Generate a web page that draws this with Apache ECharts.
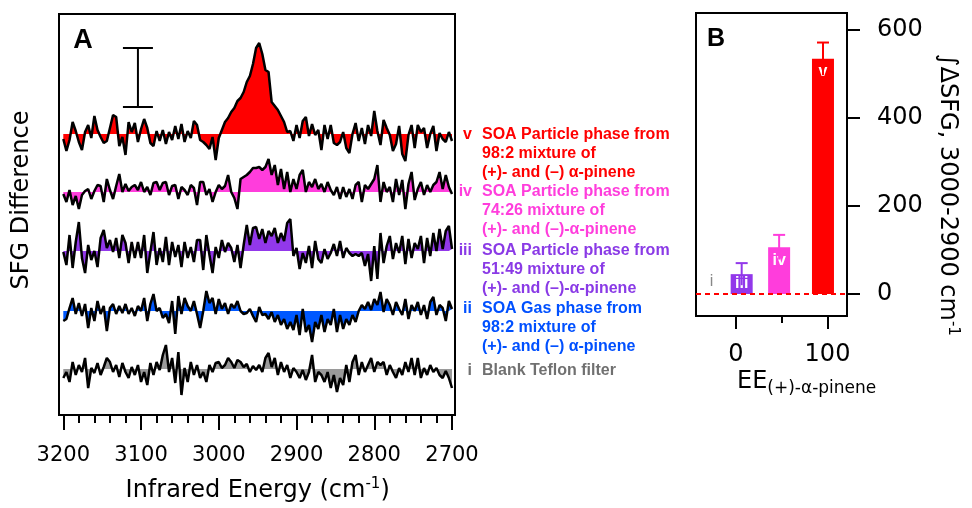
<!DOCTYPE html>
<html>
<head>
<meta charset="utf-8">
<script src="https://cdn.jsdelivr.net/npm/echarts@6/dist/echarts.min.js"></script>
<style>
  html, body { margin: 0; padding: 0; background: #fff; }
  #chart { width: 972px; height: 508px; }
</style>
</head>
<body>
<div id="chart"></div>
<script>
// panel A: SFG difference spectra, one point every 4 cm-1 from 3200 to 2700
const wnStart = 3200
const wnStep = 4
const traceV = [-5, -17, -6, 12, 3, -8, -16, 2, 9, -4,
  18, 4, -3, -9, -7, 6, 19, 17, -12, -3,
  -21, 12, 2, 11, -8, 5, 15, 6, -9, -12,
  3, -7, 4, -10, 2, -6, 8, -5, 10, -8,
  3, -4, 13, 9, -6, -8, -11, -15, -3, -26,
  -4, 4, 12, 16, 22, 26, 33, 36, 42, 52,
  58, 70, 86, 91, 80, 64, 62, 32, 28, 24,
  18, 12, 2, 3, -7, 9, -4, 13, 17, -2,
  10, -1, 4, -16, 9, -5, 9, -9, -11, -8,
  2, -14, -19, 0, 11, -7, 6, -10, 9, -2,
  23, 3, -11, 14, 6, -1, -17, -10, 8, -20,
  -27, -1, 9, -14, 9, 2, 6, -14, 0, 8,
  -17, 1, -5, -8, 2, -7]
const traceIV = [-2, -10, 2, -13, -4, -17, -3, 1, 3, -7,
  1, 7, 6, -10, 13, 2, -7, 6, 18, 0,
  8, 1, 5, 7, 2, 10, 0, 5, -3, 9,
  10, 2, 9, 10, -3, 6, 7, -7, 5, 2,
  -3, 7, 4, -13, 10, 10, -3, 3, -10, 0,
  7, 3, 6, 17, 0, -6, -17, 13, 15, 17,
  20, 24, 24, 25, 22, 25, 33, 17, 27, 7,
  23, 3, 20, 0, 13, 3, 17, 22, 0, 10,
  5, 13, 3, 8, 0, 10, 2, -3, 5, -7,
  5, -5, 3, -7, 7, 10, -10, 7, 3, 8,
  13, 27, -10, 10, 0, 5, -10, 13, -3, 12,
  -17, 8, 20, -8, 3, 10, -3, 7, 0, 7,
  10, 20, 3, 17, 5, -2]
const traceIII = [-1, -14, 16, -17, 9, 29, -7, -22, 6, -9,
  0, -16, 13, 21, 3, 11, -1, 13, -7, 16,
  8, -12, 9, -7, 9, -7, 16, -22, -1, 19,
  -14, 3, -11, 14, -14, 9, -6, 6, -16, 9,
  -7, 4, -11, 11, 11, -19, 16, -4, -22, 4,
  -7, 11, -1, 8, 3, -11, 6, -17, 6, 26,
  6, 23, 24, 12, 22, 8, 20, 15, 23, 8,
  18, 10, 28, 32, -5, 3, -18, -2, -12, 5,
  -17, 10, -8, -12, 2, -8, -2, 7, -5, 10,
  -7, 3, -2, -5, -3, -5, -2, -15, -3, -30,
  5, -28, 18, -12, 5, 15, -8, 8, -2, 15,
  -13, 12, -7, 8, 2, 15, -12, 13, -5, 18,
  0, 22, 2, 20, 25, 2]
const traceII = [-10, -8, 3, 13, -3, 8, -5, 7, -17, 3,
  -10, 10, -3, 5, -20, 3, 7, -3, 5, -2,
  7, -3, 3, -5, 5, 0, 13, -10, 7, 17,
  0, 3, -7, -3, -12, 10, -23, 15, -3, 13,
  5, 0, 10, -3, -17, 0, 20, 8, 13, -3,
  12, 2, 8, -3, 7, 3, 10, 0, -3, -2,
  2, -5, -11, 4, -4, -3, -8, -1, -11, -4,
  -14, -8, -18, -11, -19, -4, -24, 2, -21, -14,
  -31, -11, -18, -4, -21, -8, -14, 2, -21, -4,
  -18, -8, -14, -4, -11, 0, 6, 2, 9, 1,
  12, 6, 19, -1, 12, 6, -4, 9, 2, -4,
  12, -8, 6, 0, 9, -4, 6, -8, 9, 14,
  -4, 6, 3, -10, 10, 2]
const traceI = [-9, -3, -13, 7, -6, 4, -3, 11, -19, 1,
  -4, 6, -6, 2, 11, 7, -3, 4, -8, 6,
  -3, -9, 2, -6, 4, -13, -3, -16, 6, -6,
  7, -1, 14, 24, -3, 11, -14, 17, -26, 1,
  -13, 7, -6, 4, -9, -3, -13, 4, -3, 6,
  7, 1, 4, 11, 7, 1, 9, 7, 2, 5,
  -3, 3, -1, 4, -3, 11, 16, 2, 11, -6,
  7, -3, 4, -9, 1, -3, -9, -1, -11, -3,
  14, -13, -3, -6, -13, -3, -19, -6, -23, -9,
  -16, 4, -13, 7, 14, -6, 7, -3, 4, 11,
  -3, 7, 4, 7, -6, 4, -3, -9, 1, -6,
  7, -3, 11, -6, 11, -9, 1, -6, 4, -3,
  1, -6, -9, -2, -9, -19]
// vertical offset of each trace (same units), top trace first
const traceNames = ['v', 'iv', 'iii', 'ii', 'i']
const traceOffsets = [281, 223, 164, 104, 46]
const plotSpan = 401
// scale bar: [wavenumber, low, high] on the top trace's scale
const scaleBar = [3104, 27, 86]

// panel B: integrated SFG (3000-2900 cm-1) vs EE
const barNames = ['i', 'iii', 'iv', 'v']
const barEE = [-27, 6, 47, 95]
const barIntegral = [0, 45, 106, 533]
const barError = [0, 25, 28, 37]

const legendLines = [
  ['v', ['SOA Particle phase from', '98:2 mixture of', '(+)- and (–) α-pinene']],
  ['iv', ['SOA Particle phase from', '74:26 mixture of', '(+)- and (–)-α-pinene']],
  ['iii', ['SOA Particle phase from', '51:49 mixture of', '(+)- and (–)-α-pinene']],
  ['ii', ['SOA Gas phase from', '98:2 mixture of', '(+)- and (–) α-pinene']],
  ['i', ['Blank Teflon filter']]
]

const colors = {v: '#ff0000', iv: '#ff3ddc', iii: '#9238ea', ii: '#0058ff', i: '#9a9a9a'}
const textColors = {v: '#ff0000', iv: '#ff3ddc', iii: '#8a3ae6', ii: '#0050ff', i: '#707070'}
const FONT = 'DejaVu Sans'
const BOLD = 'Liberation Sans'

const traces = [traceV, traceIV, traceIII, traceII, traceI]
const wn = traceV.map((_, i) => wnStart - i * wnStep)

const yAxesA = traceOffsets.map(off => ({
  gridIndex: 1, type: 'value', show: false,
  min: -off, max: plotSpan - off
}))

const traceSeries = traces.map((t, k) => ({
  name: traceNames[k],
  type: 'line',
  xAxisIndex: 1,
  yAxisIndex: 2 + k,
  symbol: 'none',
  animation: false,
  lineStyle: {color: '#000', width: 2.5},
  areaStyle: {color: colors[traceNames[k]], opacity: 1},
  data: t.map((v, i) => [wn[i], v])
}))

const scaleBarSeries = {
  type: 'custom',
  xAxisIndex: 1,
  yAxisIndex: 2,
  animation: false,
  data: [scaleBar],
  renderItem(params, api) {
    const lo = api.coord([api.value(0), api.value(1)])
    const hi = api.coord([api.value(0), api.value(2)])
    const st = {stroke: '#000', lineWidth: 2}
    return {
      type: 'group',
      children: [
        {type: 'line', shape: {x1: lo[0], y1: lo[1], x2: hi[0], y2: hi[1]}, style: st},
        {type: 'line', shape: {x1: lo[0] - 15, y1: lo[1], x2: lo[0] + 15, y2: lo[1]}, style: st},
        {type: 'line', shape: {x1: hi[0] - 15, y1: hi[1], x2: hi[0] + 15, y2: hi[1]}, style: st}
      ]
    }
  }
}

const barSeries = {
  type: 'bar',
  xAxisIndex: 3,
  yAxisIndex: 8,
  barWidth: 22,
  animation: false,
  data: barEE.map((x, i) => ({
    value: [x, barIntegral[i]],
    itemStyle: {color: colors[barNames[i]]},
    label: barNames[i] === 'i'
      ? {show: true, position: 'top', distance: 4, color: '#888', fontWeight: 'normal', fontSize: 16}
      : {show: true, position: 'insideTop', distance: barNames[i] === 'iii' ? 1 : 5}
  })),
  label: {
    show: true, color: '#fff', fontFamily: BOLD, fontWeight: 'bold', fontSize: 16,
    formatter: p => barNames[p.dataIndex]
  },
  markLine: {
    silent: true, symbol: 'none', animation: false,
    label: {show: false},
    lineStyle: {color: '#ff0000', type: [5, 4], width: 2},
    data: [{yAxis: 0}]
  }
}

const errorSeries = {
  type: 'custom',
  xAxisIndex: 3,
  yAxisIndex: 8,
  animation: false,
  z: 5,
  data: barEE.map((x, i) => [x, barIntegral[i], barError[i], i]),
  renderItem(params, api) {
    const e = api.value(2)
    if (!e) return null
    const c = colors[barNames[api.value(3)]]
    const lo = api.coord([api.value(0), api.value(1) - e])
    const hi = api.coord([api.value(0), api.value(1) + e])
    const st = {stroke: c, lineWidth: 2}
    return {
      type: 'group',
      children: [
        {type: 'line', shape: {x1: lo[0], y1: lo[1], x2: hi[0], y2: hi[1]}, style: st},
        {type: 'line', shape: {x1: hi[0] - 6, y1: hi[1], x2: hi[0] + 6, y2: hi[1]}, style: st}
      ]
    }
  }
}

const legendRows = [135, 192, 251, 309, 371]
const legendGraphics = []
legendLines.forEach(([num, lines], k) => {
  const c = textColors[num]
  legendGraphics.push({
    type: 'text', x: 472, y: legendRows[k],
    style: {text: num, fill: c, font: `bold 16px "${BOLD}"`, align: 'right', verticalAlign: 'middle'}
  })
  lines.forEach((s, j) => {
    legendGraphics.push({
      type: 'text', x: 482, y: legendRows[k] + j * 19,
      style: {text: s, fill: c, font: `bold 16px "${BOLD}"`, align: 'left', verticalAlign: 'middle'}
    })
  })
})

const plain = v => String(v)

const option = {
  backgroundColor: '#fff',
  textStyle: {fontFamily: FONT},
  grid: [
    // panel A frame
    {left: 59, right: 517, top: 14, bottom: 93, show: true, borderColor: '#000', borderWidth: 2, backgroundColor: 'transparent'},
    // panel A data / x ticks
    {left: 63.3, right: 520, top: 14, bottom: 93},
    // panel B frame
    {left: 696, right: 125, top: 13, bottom: 192, show: true, borderColor: '#000', borderWidth: 2, backgroundColor: 'transparent'},
    // panel B data / y ticks
    {left: 696, right: 125, top: 29.3, bottom: 214},
    // panel B x ticks
    {left: 736, right: 144.5, top: 300, bottom: 192}
  ],
  xAxis: [
    {gridIndex: 0, type: 'value', show: false, min: 0, max: 1},
    {
      gridIndex: 1, type: 'value', min: 2700, max: 3200, interval: 100, inverse: true,
      axisLine: {show: false, onZero: false},
      axisTick: {show: true, length: 15, lineStyle: {color: '#000', width: 2}},
      minorTick: {show: true, splitNumber: 5, length: 8, lineStyle: {color: '#000', width: 2}},
      splitLine: {show: false},
      axisLabel: {color: '#000', fontSize: 21, margin: 30, fontFamily: FONT, formatter: plain},
      name: 'Infrared Energy (cm{sup|-1})',
      nameLocation: 'middle',
      nameGap: 89,
      nameTextStyle: {
        color: '#000', fontSize: 24, fontFamily: FONT, verticalAlign: 'bottom',
        rich: {sup: {fontSize: 15, color: '#000', fontFamily: FONT, padding: [0, 0, 12, 0]}}
      }
    },
    {gridIndex: 2, type: 'value', show: false, min: 0, max: 1},
    {gridIndex: 3, type: 'value', show: false, min: -44, max: 121.3},
    {
      gridIndex: 4, type: 'value', min: 0, max: 100, interval: 100,
      axisLine: {show: false, onZero: false},
      axisTick: {show: true, length: 13, lineStyle: {color: '#000', width: 2}},
      minorTick: {show: true, splitNumber: 2, length: 7, lineStyle: {color: '#000', width: 2}},
      splitLine: {show: false},
      axisLabel: {color: '#000', fontSize: 24, margin: 27, fontFamily: FONT, formatter: plain}
    }
  ],
  yAxis: [
    {gridIndex: 0, type: 'value', show: false, min: 0, max: 1},
    {gridIndex: 1, type: 'value', show: false, min: 0, max: 1},
    ...yAxesA,
    {gridIndex: 2, type: 'value', show: false, min: 0, max: 1},
    {
      gridIndex: 3, type: 'value', position: 'right', min: 0, max: 600, interval: 200,
      axisLine: {show: false, onZero: false},
      axisTick: {show: true, length: 13, lineStyle: {color: '#000', width: 2}},
      splitLine: {show: false},
      axisLabel: {color: '#000', fontSize: 24, margin: 30, fontFamily: FONT, formatter: plain}
    },
    {gridIndex: 4, type: 'value', show: false, min: 0, max: 1}
  ],
  graphic: [
    {type: 'text', x: 83, y: 41, style: {text: 'A', font: `bold 27px "${BOLD}"`, fill: '#000', align: 'center', verticalAlign: 'middle'}},
    {type: 'text', x: 716, y: 39, style: {text: 'B', font: `bold 25px "${BOLD}"`, fill: '#000', align: 'center', verticalAlign: 'middle'}},
    {type: 'text', x: 22, y: 200, rotation: Math.PI / 2,
      style: {text: 'SFG Difference', font: `24px "${FONT}"`, fill: '#000', align: 'center', verticalAlign: 'middle'}},
    {type: 'text', x: 947, y: 195, rotation: -Math.PI / 2,
      style: {
        text: '∫ΔSFG, 3000-2900 cm{sup|-1}', font: `24px "${FONT}"`, fill: '#000', align: 'center', verticalAlign: 'middle',
        rich: {sup: {fontSize: 15, fontFamily: FONT, fill: '#000', padding: [0, 0, 12, 0]}}
      }},
    {type: 'text', x: 737, y: 382,
      style: {
        text: 'EE{sub|(+)-α-pinene}', font: `24px "${FONT}"`, fill: '#000', align: 'left', verticalAlign: 'middle',
        rich: {sub: {fontSize: 17, fontFamily: FONT, fill: '#000', padding: [14, 0, 0, 0]}}
      }},
    ...legendGraphics
  ],
  series: [...traceSeries, scaleBarSeries, barSeries, errorSeries]
}

const myChart = echarts.init(document.getElementById('chart'), null, {renderer: 'canvas'})
myChart.setOption(option)
</script>
</body>
</html>
